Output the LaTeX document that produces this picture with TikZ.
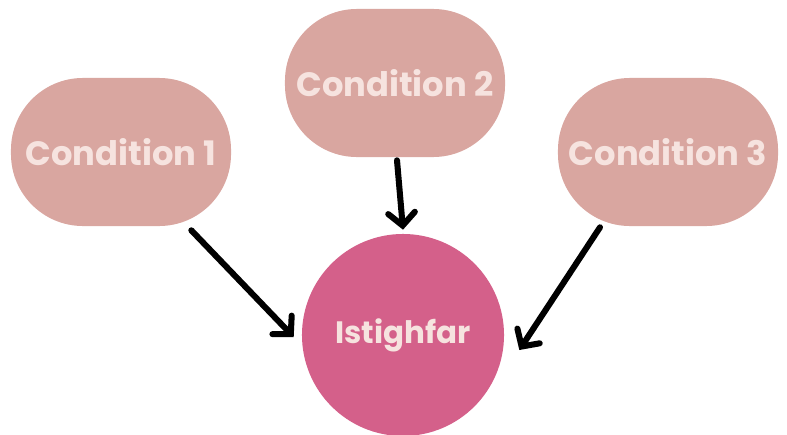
\documentclass[tikz,border=0pt]{standalone}
\usepackage{fontspec}
\setmainfont{Poppins}
\usetikzlibrary{arrows.meta,positioning,calc}
\definecolor{condfill}{RGB}{217,166,160}
\definecolor{condtext}{RGB}{246,227,223}
\definecolor{istfill}{RGB}{212,96,138}

\begin{document}
\begin{tikzpicture}[
  x=0.025cm, y=-0.025cm,
  condnode/.style={rectangle, rounded corners=1.8cm, fill=condfill,
                   minimum width=5.5cm, minimum height=3.7cm, inner sep=0pt,
                   text=condtext, font=\fontsize{24}{28}\selectfont\bfseries},
  istnode/.style={circle, fill=istfill, minimum size=5.05cm, inner sep=0pt,
                  text=condtext, font=\fontsize{22}{26}\selectfont\bfseries},
  arr/.style={line width=4.3pt, line cap=round, line join=round,
              -{Straight Barb[length=9pt, width=19pt, line cap=round]}},
]
\useasboundingbox (0,0) rectangle (787,434);

% Result node
\node[istnode] (ist) at (403,335) {Istighfar};

% Condition nodes
\node[condnode] (c1) at (121,152) {Condition 1};
\node[condnode] (c2) at (395,83) {Condition 2};
\node[condnode] (c3) at (668,152) {Condition 3};

% Arrows
\draw[arr] ($(c1.south east)+(-40,4)$) -- ($(ist.west)+(-8,2)$);
\draw[arr] ($(c2.south)+(2,3)$) -- ($(ist.north)+(0,-4)$);
\draw[arr] ($(c3.south)+(-68,1)$) -- ($(ist.east)+(15,15)$);

\end{tikzpicture}
\end{document}
